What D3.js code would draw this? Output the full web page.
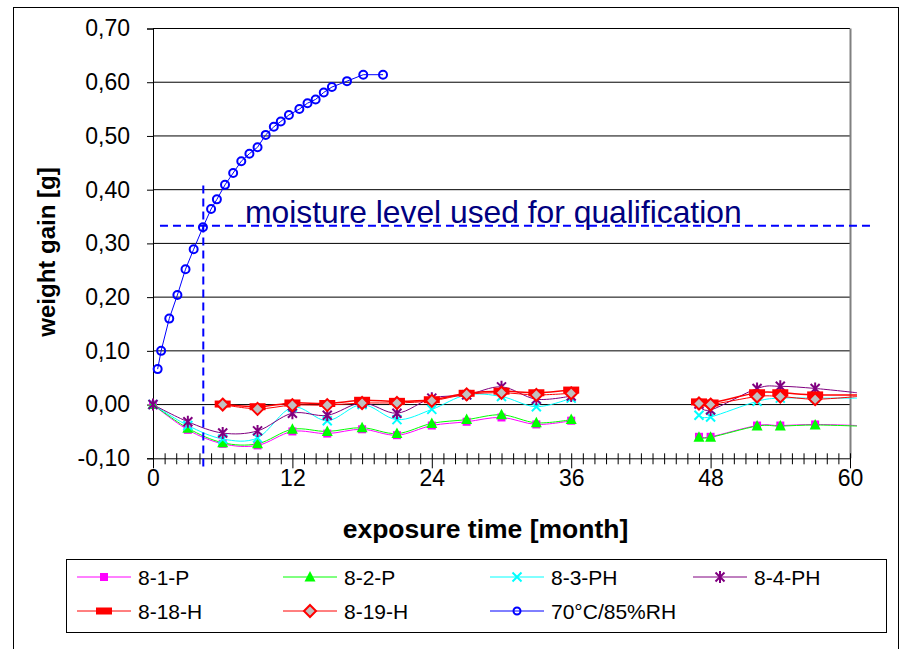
<!DOCTYPE html>
<html><head><meta charset="utf-8">
<script src="https://cdn.jsdelivr.net/npm/d3@7"></script>
<style>
html,body{margin:0;padding:0;background:#fff;}
svg{display:block;font-family:"Liberation Sans",Arial,sans-serif;}
</style></head>
<body><svg id="c" width="909" height="649"></svg>
<script>
// ---- data ----
const lowMonths = [0,3,6,9,12,15,18,21,24,27,30,33,36,47,48,52,54,57,60.6];
const s81P  = [0,-0.047,-0.073,-0.076,-0.050,-0.054,-0.046,-0.057,-0.039,-0.032,-0.024,-0.037,-0.030,-0.060,-0.060,-0.039,-0.039,-0.037,-0.039];
const s82P  = [0,-0.044,-0.071,-0.073,-0.046,-0.050,-0.043,-0.054,-0.035,-0.028,-0.019,-0.034,-0.028,-0.061,-0.061,-0.040,-0.040,-0.038,-0.040];
const s83PH = [0,-0.039,-0.064,-0.062,-0.005,-0.030,0.000,-0.028,-0.009,0.018,0.015,-0.004,0.012,-0.020,-0.023,0.006,0.012,0.012,0.012];
const s84PH = [0,-0.032,-0.053,-0.049,-0.016,-0.020,0.003,-0.016,0.012,0.018,0.033,0.010,0.016,0.001,-0.010,0.030,0.034,0.030,0.022];
const s818H = [null,null,0.001,-0.004,0.003,0.002,0.008,0.006,0.009,0.021,0.025,0.022,0.027,0.005,0.003,0.022,0.022,0.018,0.018];
const s819H = [null,null,0.000,-0.008,-0.001,-0.001,0.003,0.003,0.007,0.019,0.022,0.018,0.021,0.002,0.000,0.015,0.015,0.010,0.015];
const refMonths = [0.4,0.7,1.4,2.1,2.8,3.5,4.3,5.0,5.5,6.2,6.9,7.6,8.3,9.0,9.7,10.4,11.0,11.7,12.6,13.3,14.0,14.7,15.4,16.7,18.1,19.8];
const refValues = [0.066,0.100,0.160,0.204,0.252,0.289,0.330,0.364,0.382,0.409,0.431,0.453,0.467,0.479,0.502,0.517,0.527,0.539,0.550,0.561,0.568,0.581,0.591,0.602,0.614,0.614];
const yTicks = [-0.10,0.00,0.10,0.20,0.30,0.40,0.50,0.60,0.70];
const xTickLabels = [0,12,24,36,48,60];
const qualLevel = 0.333, qualTime = 4.33;
const seriesNames = ["8-1-P","8-2-P","8-3-PH","8-4-PH","8-18-H","8-19-H","70°C/85%RH"];

// ---- setup ----
const svg = d3.select("#c");
const L=153, R=850, T=28.5, B=458.3;
const x = d3.scaleLinear().domain([0,60]).range([L,R]);
const y = d3.scaleLinear().domain([-0.1,0.7]).range([B,T]);
const loc = d3.formatLocale({decimal:",",thousands:".",grouping:[3],currency:["",""],minus:"-"});
const fmt = loc.format(".2f");

// outer border
svg.append("rect").attr("x",13.5).attr("y",7.5).attr("width",885).attr("height",700)
  .attr("fill","none").attr("stroke","#000").attr("stroke-width",1);

// gridlines
svg.append("g").selectAll("line").data(yTicks.slice(1)).join("line")
  .attr("x1",L).attr("x2",R).attr("y1",d=>y(d)).attr("y2",d=>y(d))
  .attr("stroke","#000").attr("stroke-width",1);
// right plot border
svg.append("line").attr("x1",R+0.5).attr("x2",R+0.5).attr("y1",T).attr("y2",B)
  .attr("stroke","#808080").attr("stroke-width",2);

// y axis
const ya = svg.append("g").attr("transform",`translate(${L},0)`)
  .call(d3.axisLeft(y).tickValues(yTicks).tickSize(6).tickPadding(17).tickFormat(fmt));
ya.select(".domain").attr("stroke","#000");
ya.selectAll(".tick line").attr("stroke","#000");
ya.selectAll("text").attr("font-size",23).attr("fill","#000").attr("font-family","Liberation Sans, Arial");

// x axis
const xa = svg.append("g").attr("transform",`translate(0,${B})`)
  .call(d3.axisBottom(x).tickValues(d3.range(0,61)).tickSize(6).tickPadding(5)
    .tickFormat(d=>xTickLabels.includes(d)?d:""));
xa.select(".domain").attr("stroke","#000");
xa.selectAll(".tick line").attr("stroke","#000")
  .attr("y1",-5).attr("y2",d=>d%12===0?10:6);
xa.selectAll("text").attr("font-size",23).attr("fill","#000").attr("font-family","Liberation Sans, Arial");

// axis titles
svg.append("text").attr("x",485.5).attr("y",538).attr("text-anchor","middle")
  .attr("font-size",26.5).attr("font-weight","bold").text("exposure time [month]");
svg.append("text").attr("transform","translate(55,252) rotate(-90)").attr("text-anchor","middle")
  .attr("font-size",24).attr("font-weight","bold").text("weight gain [g]");

// marker painters
function marker(g, type, color){
  switch(type){
    case "square": g.append("rect").attr("x",-4).attr("y",-4).attr("width",8).attr("height",8).attr("fill",color); break;
    case "triangle": g.append("path").attr("d","M0,-6L5.5,4.5L-5.5,4.5Z").attr("fill",color); break;
    case "x": g.append("path").attr("d","M-4.5,-4.5L4.5,4.5M-4.5,4.5L4.5,-4.5").attr("stroke",color).attr("stroke-width",2).attr("fill","none"); break;
    case "star": g.append("path").attr("d","M-4.5,-4.5L4.5,4.5M-4.5,4.5L4.5,-4.5M0,-6L0,6").attr("stroke",color).attr("stroke-width",2).attr("fill","none"); break;
    case "bar": g.append("rect").attr("x",-8).attr("y",-3.5).attr("width",16).attr("height",7).attr("fill",color); break;
    case "diamond": g.append("path").attr("d","M0,-6L6,0L0,6L-6,0Z").attr("fill","#c0c0c0").attr("stroke",color).attr("stroke-width",2); break;
    case "circle": g.append("circle").attr("r",4).attr("fill","none").attr("stroke",color).attr("stroke-width",2); break;
  }
}

const series = [
  {name:seriesNames[0], vals:s81P,  color:"#ff00ff", m:"square", lw:1},
  {name:seriesNames[1], vals:s82P,  color:"#00ff00", m:"triangle", lw:1},
  {name:seriesNames[2], vals:s83PH, color:"#00ffff", m:"x", lw:1},
  {name:seriesNames[3], vals:s84PH, color:"#800080", m:"star", lw:1},
  {name:seriesNames[4], vals:s818H, color:"#ff0000", m:"bar", lw:1.5},
  {name:seriesNames[5], vals:s819H, color:"#ff0000", m:"diamond", lw:1},
];
const line = d3.line().x(d=>x(d[0])).y(d=>y(d[1])).curve(d3.curveCardinal.tension(0));
const plot = svg.append("g");

series.forEach(s=>{
  const pts = lowMonths.map((m,i)=>[m,s.vals[i]]).filter(d=>d[1]!=null);
  const seg1 = pts.filter(d=>d[0]<=36), seg2 = pts.filter(d=>d[0]>=47);
  [seg1,seg2].forEach(seg=>{
    plot.append("path").attr("d",line(seg)).attr("fill","none").attr("stroke",s.color).attr("stroke-width",s.lw);
  });
  s.pts = pts.filter(d=>d[0]<=60);
});
series.forEach(s=>{
  s.pts.forEach(d=>{
    const g = plot.append("g").attr("transform",`translate(${x(d[0])},${y(d[1])})`);
    marker(g,s.m,s.color);
  });
});

// reference curve
const refPts = refMonths.map((m,i)=>[m,refValues[i]]);
plot.append("path").attr("d",d3.line().x(d=>x(d[0])).y(d=>y(d[1]))(refPts))
  .attr("fill","none").attr("stroke","#0000ff").attr("stroke-width",1);
refPts.forEach(d=>{
  const g = plot.append("g").attr("transform",`translate(${x(d[0])},${y(d[1])})`);
  marker(g,"circle","#0000ff");
});

// qualification annotation
svg.append("line").attr("x1",x(0.6)).attr("x2",x(61.9)).attr("y1",y(qualLevel)).attr("y2",y(qualLevel))
  .attr("stroke","#0000ff").attr("stroke-width",2).attr("stroke-dasharray","8,5");
svg.append("line").attr("x1",x(qualTime)).attr("x2",x(qualTime)).attr("y1",y(0.408)).attr("y2",y(-0.122))
  .attr("stroke","#0000ff").attr("stroke-width",2).attr("stroke-dasharray","8,5");
svg.append("text").attr("x",245).attr("y",223).attr("font-size",31.8).attr("fill","#000080")
  .text("moisture level used for qualification");

// legend
svg.append("rect").attr("x",66.5).attr("y",559.5).attr("width",820).attr("height",73)
  .attr("fill","none").attr("stroke","#000").attr("stroke-width",1);
const legItems = [
  {s:0,col:0,row:0},{s:1,col:1,row:0},{s:2,col:2,row:0},{s:3,col:3,row:0},
  {s:4,col:0,row:1},{s:5,col:1,row:1},{s:6,col:2,row:1}
];
const colX = [77,283,490,693], rowY = [577,611];
const legSeries = series.concat([{name:seriesNames[6], color:"#0000ff", m:"circle"}]);
legItems.forEach(it=>{
  const s = legSeries[it.s];
  const x0 = colX[it.col], yy = rowY[it.row];
  svg.append("line").attr("x1",x0).attr("x2",x0+54).attr("y1",yy).attr("y2",yy).attr("stroke",s.color).attr("stroke-width",1);
  const g = svg.append("g").attr("transform",`translate(${x0+27},${yy})`);
  if(s.m==="circle"){ g.append("circle").attr("r",3.5).attr("fill","none").attr("stroke",s.color).attr("stroke-width",2); }
  else marker(g,s.m,s.color);
  svg.append("text").attr("x",x0+61).attr("y",yy+7.5).attr("font-size",21).attr("fill","#000").text(s.name);
});
</script></body></html>
